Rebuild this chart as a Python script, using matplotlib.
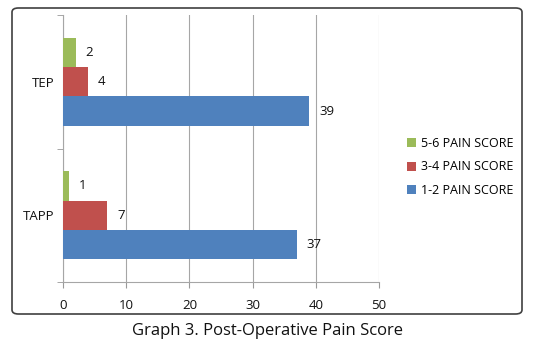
import matplotlib
matplotlib.use("Agg")
import matplotlib.pyplot as plt
from matplotlib.patches import FancyBboxPatch
import numpy as np

plt.rcParams['font.family'] = ['Open Sans', 'DejaVu Sans']

categories = ["TAPP", "TEP"]
series_names = ["1-2 PAIN SCORE", "3-4 PAIN SCORE", "5-6 PAIN SCORE"]
score_1_2 = [37, 39]
score_3_4 = [7, 4]
score_5_6 = [1, 2]
colors = ["#4F81BD", "#C0504D", "#9BBB59"]
x_ticks = [0, 10, 20, 30, 40, 50]

fig = plt.figure(figsize=(5.35, 3.44), dpi=100)
W, H = 535, 344

# 外框（圆角）
border = FancyBboxPatch((12 / W, 1 - 314 / H), 510 / W, 306 / H,
                        boxstyle="round,pad=0,rounding_size=0.012",
                        transform=fig.transFigure, facecolor="none",
                        edgecolor="#404040", linewidth=1.2, zorder=5)
fig.patches.append(border)

ax = fig.add_axes([63 / W, 1 - 282 / H, (379 - 63) / W, (282 - 15) / H])
ax.set_facecolor("none")

y = np.arange(len(categories))
h = 0.22
all_vals = [score_1_2, score_3_4, score_5_6]
offsets = [-h, 0, h]
for vals, off, c, name in zip(all_vals, offsets, colors, series_names):
    bars = ax.barh(y + off, vals, height=h, color=c, label=name, zorder=3)
    for b, v in zip(bars, vals):
        ax.annotate(str(v), (b.get_width(), b.get_y() + b.get_height() / 2),
                    xytext=(7, 0), textcoords="offset points",
                    va="center", ha="left", fontsize=9.5, color="#111111")

ax.set_xlim(0, 50)
ax.set_ylim(-0.5, 1.5)
ax.set_xticks(x_ticks)
ax.set_xticklabels([str(t) for t in x_ticks], fontsize=9.5, color="#111111")
ax.set_yticks(y)
ax.set_yticklabels(categories, fontsize=9.5, color="#111111")
ax.tick_params(axis="y", length=0, pad=6)
ax.set_yticks([-0.5, 0.5, 1.5], minor=True)
ax.tick_params(axis="y", which="minor", length=4, color="#999999")
ax.tick_params(axis="x", length=4, color="#999999", pad=8)
ax.grid(axis="x", color="#a6a6a6", linewidth=0.8, zorder=0)
for s in ["top", "right"]:
    ax.spines[s].set_visible(False)
for s in ["left", "bottom"]:
    ax.spines[s].set_color("#a6a6a6")

handles, labels = ax.get_legend_handles_labels()
leg = fig.legend(handles[::-1], labels[::-1], loc="center left",
                 bbox_to_anchor=(396 / W, 1 - 167 / H), frameon=False,
                 fontsize=9, handlelength=0.7, handleheight=0.7,
                 handletextpad=0.4, labelspacing=0.85)

fig.text(0.5, 1 - 331 / H, "Graph 3. Post-Operative Pain Score",
         ha="center", va="center", fontsize=12, color="#111111")

fig.savefig("out.png", dpi=100)
